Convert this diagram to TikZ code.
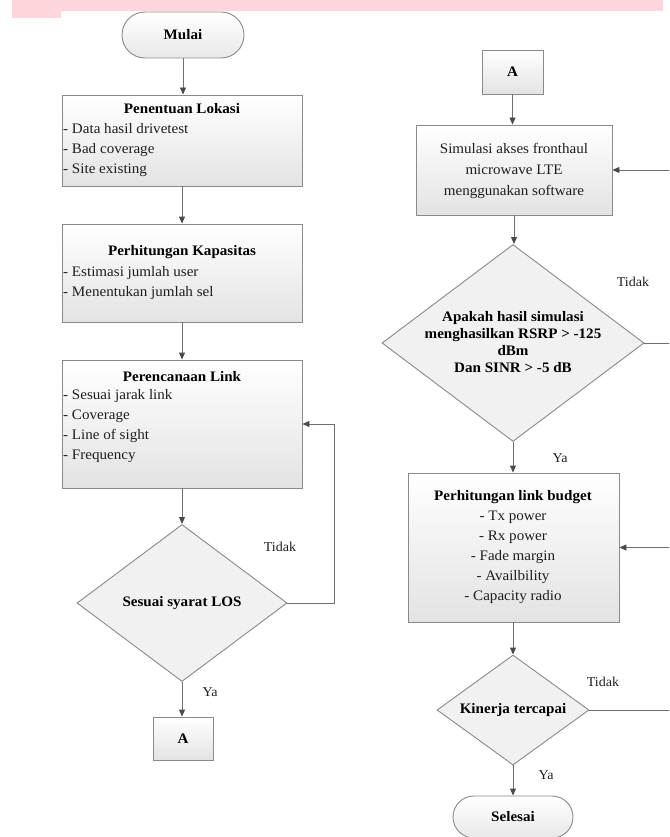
\documentclass[tikz,border=0pt]{standalone}
\usepackage{fontspec}
\setmainfont{Liberation Serif}[FakeStretch=1.04]
\usetikzlibrary{arrows.meta,shapes.geometric,shapes.misc}
\definecolor{boxline}{HTML}{8A8A8A}
\definecolor{arrline}{HTML}{707070}
\definecolor{arrhead}{HTML}{4A4A4A}
\definecolor{txtc}{HTML}{1E1E1E}
\definecolor{dfill}{HTML}{F1F1F1}
\definecolor{pinkband}{HTML}{FFD6DB}
\tikzset{
  procbox/.style={rectangle, draw=boxline, line width=0.9pt, top color=white, bottom color=black!11, inner sep=0pt},
  pill/.style={rounded rectangle, draw=boxline, line width=0.9pt, top color=white, bottom color=black!9, inner sep=0pt},
  decis/.style={diamond, draw=boxline, line width=0.9pt, fill=dfill, inner sep=0pt},
  txt/.style={text=txtc, inner sep=0pt, font=\fontsize{14.5}{20}\selectfont},
  ttl/.style={text=black, inner sep=0pt, font=\fontsize{14.5}{17}\selectfont\bfseries},
  arr/.style={draw=arrline, line width=0.9pt, -{Triangle[length=7pt,width=6pt,fill=arrhead,color=arrhead]}},
  lbl/.style={text=txtc, inner sep=0pt, font=\fontsize{13.5}{16}\selectfont}
}
\begin{document}
\begin{tikzpicture}[x=1pt,y=-1pt]
\path[use as bounding box] (0,0) rectangle (669,837);
\clip (0,0) rectangle (669,837);
\fill[white] (0,0) rectangle (669,837);
% pink band
\fill[pinkband] (12,0) rectangle (663,11);
\fill[pinkband] (12,11) rectangle (61,18);

% ---------- left column ----------
\node[pill, minimum width=122, minimum height=46] (mulai) at (183,35) {};
\node[ttl] at (mulai.center) {Mulai};

\node[procbox, minimum width=240, minimum height=91] (b1) at (182,140.5) {};
\node[ttl] (t1) at (182,109) {Penentuan Lokasi};
\node[txt, anchor=west, align=left] (i1) at (63,150) {- Data hasil drivetest\\- Bad coverage\\- Site existing};

\node[procbox, minimum width=240, minimum height=98] (b2) at (182,273) {};
\node[ttl] (t2) at (182,252) {Perhitungan Kapasitas};
\node[txt, anchor=west, align=left] (i2) at (63,283) {- Estimasi jumlah user\\- Menentukan jumlah sel};

\node[procbox, minimum width=240, minimum height=128] (b3) at (182,424) {};
\node[ttl] (t3) at (182,377) {Perencanaan Link};
\node[txt, anchor=west, align=left] (i3) at (63,426) {- Sesuai jarak link\\- Coverage\\- Line of sight\\- Frequency};

\node[decis, minimum width=210, minimum height=157] (los) at (182,603) {};
\node[ttl] at (los.center) {Sesuai syarat LOS};

\node[procbox, minimum width=60, minimum height=43] (a1) at (183,738.5) {};
\node[ttl] at (a1.center) {A};

\draw[arr] (mulai.south) -- (mulai.south |- b1.north);
\draw[arr] (b1.south) -- (b2.north);
\draw[arr] (b2.south) -- (b3.north);
\draw[arr] (b3.south) -- (los.north);
\draw[arr] (los.south) -- (los.south |- a1.north);
\draw[arr] (los.east) -- (334,603) |- (b3.east);
\node[lbl] at (280,547) {Tidak};
\node[lbl] at (210,692) {Ya};

% ---------- right column ----------
\node[procbox, minimum width=61, minimum height=44] (a2) at (512.5,72) {};
\node[ttl] at (a2.center) {A};

\node[procbox, minimum width=196, minimum height=90] (sim) at (514,170) {};
\node[txt, align=center, font=\fontsize{14.5}{21}\selectfont] at (514,170.5) {Simulasi akses fronthaul\\microwave LTE\\menggunakan software};

\node[decis, minimum width=262, minimum height=197] (dia1) at (513,343) {};
\node[ttl, align=center] at (513,342.5) {Apakah hasil simulasi\\menghasilkan RSRP > -125\\dBm\\Dan SINR > -5 dB};

\node[procbox, minimum width=211, minimum height=149] (lb) at (513.5,547.5) {};
\node[ttl] at (513,497) {Perhitungan link budget};
\node[txt, align=center] at (513,557) {- Tx power\\- Rx power\\- Fade margin\\- Availbility\\- Capacity radio};

\node[decis, minimum width=152, minimum height=110] (kin) at (513,710) {};
\node[ttl] at (kin.center) {Kinerja tercapai};

\node[pill, minimum width=120, minimum height=42] (sel) at (513,817) {};
\node[ttl] at (sel.center) {Selesai};

\draw[arr] (a2.south) -- (a2.south |- sim.north);
\draw[arr] (sim.south) -- (sim.south |- dia1.north);
\draw[arr] (dia1.south) -- (dia1.south |- lb.north);
\draw[arr] (lb.south -| kin.north) -- (kin.north);
\draw[arr] (kin.south) -- (sel.north);
\draw[arr] (dia1.east) -- (673,343) |- (sim.east);
\draw[arr] (kin.east) -- (673,710) |- (lb.east);
\node[lbl] at (633,282) {Tidak};
\node[lbl] at (560,458) {Ya};
\node[lbl] at (603,682) {Tidak};
\node[lbl] at (546,775) {Ya};
\end{tikzpicture}
\end{document}
